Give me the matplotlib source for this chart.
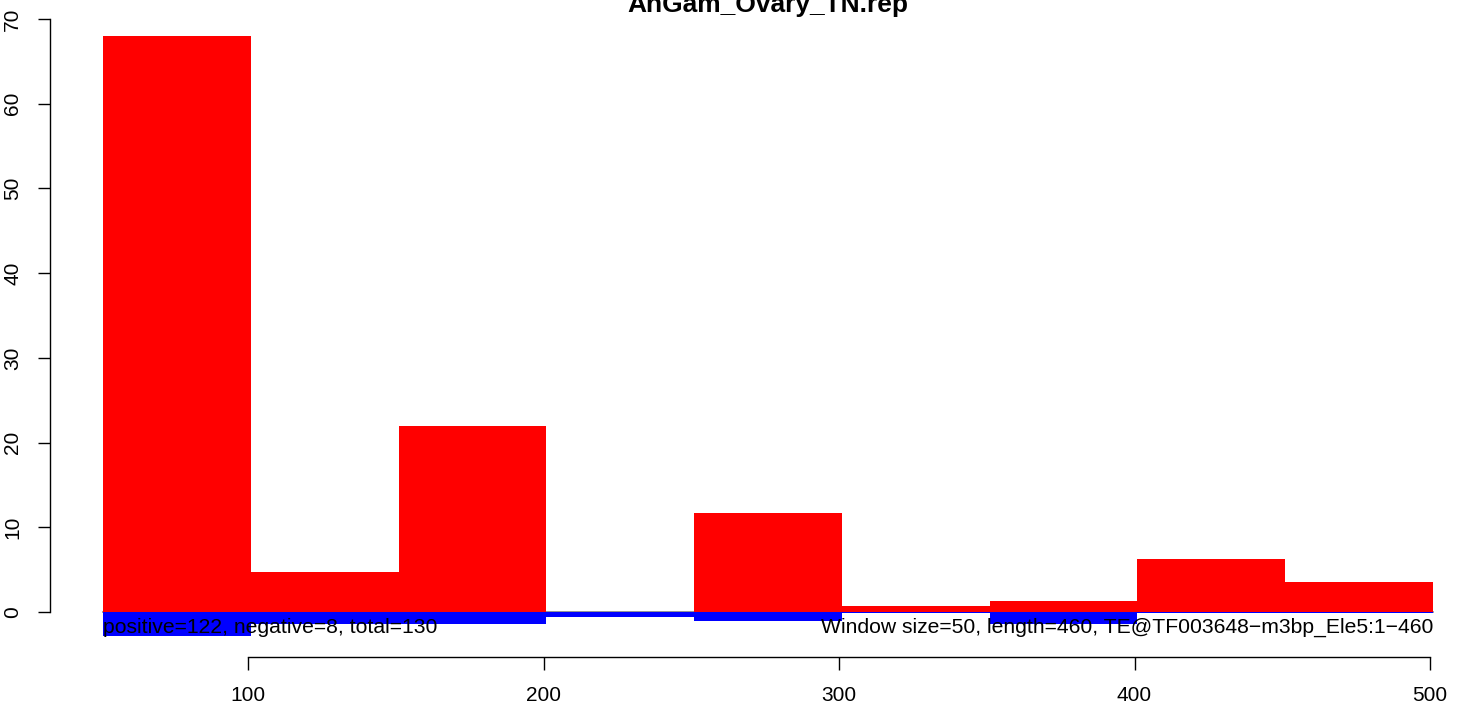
import numpy as np
import matplotlib
matplotlib.use("Agg")
from matplotlib import pyplot as plt

plt.rcParams["font.family"] = ["Liberation Sans", "DejaVu Sans"]

# window starts (bp) and per-window signal
window_start = [51, 101, 151, 201, 251, 301, 351, 401, 451]
window_size = 50
positive = [68.0, 4.7, 21.9, 0.0, 11.7, 0.7, 1.3, 6.3, 3.5]
negative = [-2.8, -1.45, -1.45, -0.55, -1.1, -0.1, -1.4, -0.1, -0.1]

title = "AnGam_Ovary_TN.rep"
left_note = "positive=122, negative=8, total=130"
right_note = "Window size=50, length=460, TE@TF003648\u2212m3bp_Ele5:1\u2212460"
xticks = [100, 200, 300, 400, 500]
yticks = [0, 10, 20, 30, 40, 50, 60, 70]

W, H = 1464, 709
fig = plt.figure(figsize=(W / 100, H / 100), dpi=100)

# plot region in pixels (R-like margins)
px_left, px_right, px_bottom, px_top = 50, 1450, 657, 19
ax = fig.add_axes([px_left / W, (H - px_bottom) / H,
                   (px_right - px_left) / W, (px_bottom - px_top) / H])

ppu_x = (1430 - 248) / 400.0
ppu_y = (612 - 19) / 70.0
ax.set_xlim(100 - (248 - px_left) / ppu_x, 100 + (px_right - 248) / ppu_x)
ax.set_ylim(-(px_bottom - 612) / ppu_y, 70)

ax.plot([window_start[0], window_start[-1] + window_size], [0, 0],
        color="gray", lw=1.2, zorder=1)
ax.bar(window_start, positive, width=window_size, align="edge",
       color="red", linewidth=0, zorder=2)
ax.bar(window_start, negative, width=window_size, align="edge",
       color="blue", linewidth=0, zorder=2)

ax.text(window_start[0], -2.5, left_note, ha="left", va="baseline",
        fontsize=15.2, zorder=3)
ax.text(window_start[-1] + window_size, -2.5, right_note, ha="right",
        va="baseline", fontsize=15.2, zorder=3)

fig.text(768 / W, 1 - 12 / H, title, ha="center", va="baseline",
         fontsize=19, fontweight="bold")

for s in ["top", "right"]:
    ax.spines[s].set_visible(False)
ax.spines["left"].set_bounds(0, 70)
ax.spines["bottom"].set_bounds(100, 500)
ax.spines["left"].set_linewidth(1.0)
ax.spines["bottom"].set_linewidth(1.0)

ax.set_xticks(xticks)
ax.set_yticks(yticks)
ax.tick_params(axis="x", length=9, width=1.0, pad=12, labelsize=15)
ax.tick_params(axis="y", length=9, width=1.0, pad=11, labelsize=15,
               labelrotation=90)
for lab in ax.get_yticklabels():
    lab.set_verticalalignment("center")

fig.savefig("out.png", dpi=100)
